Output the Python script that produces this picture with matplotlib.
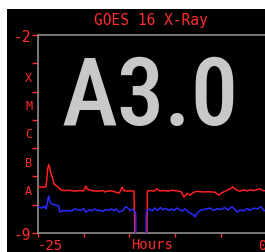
import matplotlib
matplotlib.use("Agg")
import matplotlib.pyplot as plt
from matplotlib.patches import Rectangle

# GOES 16 X-Ray flux (log10 W/m^2), hours before now
hours_long = [-25.0, -24.9, -24.5, -24.15, -24.05, -23.95, -23.83, -23.7, -23.58, -23.4, -23.25,
              -23.0, -22.81, -22.6, -22.2, -21.6, -21.0, -20.5, -20.0, -19.86, -19.75, -19.6,
              -19.0, -18.4, -17.9, -17.67, -17.3, -16.8, -16.47, -16.1, -15.81, -15.6, -15.2,
              -14.8, -14.5, -14.42, -14.38, -13.08, -13.04, -12.7, -12.3, -12.01, -11.7,
              -11.2, -10.8, -10.34, -9.8, -9.3, -9.03, -8.7, -8.37, -7.9, -7.6, -7.0,
              -6.4, -5.9, -5.63, -5.4, -5.2, -4.9, -4.5, -4.1, -3.67, -3.4, -3.1, -2.9,
              -2.5, -2.1, -1.8, -1.4, -1.0, -0.71, -0.4, 0.0]
flux_long = [-7.38, -7.37, -7.38, -7.37, -7.15, -6.75, -6.58, -6.72, -6.91, -7.05, -7.27,
             -7.33, -7.37, -7.45, -7.50, -7.49, -7.52, -7.50, -7.51, -7.40, -7.34, -7.45,
             -7.51, -7.52, -7.50, -7.55, -7.51, -7.52, -7.56, -7.59, -7.38, -7.50, -7.52,
             -7.51, -7.52, -8.6, -9.6, -9.6, -7.52, -7.50, -7.52, -7.44, -7.51,
             -7.50, -7.52, -7.49, -7.51, -7.55, -7.73, -7.60, -7.66, -7.55, -7.53, -7.55,
             -7.54, -7.55, -7.56, -7.62, -7.66, -7.58, -7.52, -7.46, -7.37, -7.46, -7.50,
             -7.52, -7.48, -7.51, -7.47, -7.50, -7.46, -7.44, -7.50, -7.51]

hours_short = [-25.0, -24.89, -24.6, -24.3, -24.1, -23.95, -23.83, -23.7, -23.5, -23.2, -22.9,
               -22.75, -22.59, -22.3, -22.0, -21.7, -21.3, -21.0, -20.6, -20.3, -20.0, -19.75,
               -19.4, -19.1, -18.8, -18.5, -18.2, -17.9, -17.6, -17.3, -17.0, -16.7, -16.47,
               -16.1, -15.7, -15.4, -15.15, -14.9, -14.65, -14.5, -14.31, -14.28, -13.2, -13.18,
               -13.1, -12.8, -12.5, -12.2, -11.9, -11.6, -11.3, -11.0, -10.7, -10.4, -10.1,
               -9.8, -9.5, -9.2, -8.9, -8.6, -8.37, -8.0, -7.8, -7.6, -7.3, -7.0, -6.6,
               -6.2, -5.8, -5.4, -5.0, -4.6, -4.2, -3.8, -3.5, -3.2, -2.9, -2.5, -2.1,
               -1.8, -1.4, -1.0, -0.6, -0.3, 0.0]
flux_short = [-8.10, -8.08, -8.12, -8.05, -8.15, -7.85, -7.69, -7.90, -7.97, -8.00, -8.03,
              -8.04, -8.26, -8.21, -8.22, -8.20, -8.22, -8.15, -8.18, -8.21, -8.14, -8.26,
              -8.18, -8.22, -8.15, -8.21, -8.19, -8.24, -8.17, -8.20, -8.15, -8.21, -8.15,
              -8.26, -8.20, -8.07, -8.12, -8.20, -8.15, -8.22, -8.30, -9.6, -9.6, -8.40,
              -8.21, -8.15, -8.22, -8.12, -8.20, -8.10, -8.18, -8.13, -8.21, -8.15, -8.20,
              -8.12, -8.18, -8.22, -8.15, -8.25, -8.29, -8.36, -8.43, -8.30, -8.21, -8.18,
              -8.15, -8.12, -8.20, -8.14, -8.17, -8.10, -8.18, -8.07, -8.15, -8.26, -8.18,
              -8.22, -8.13, -8.20, -8.12, -8.15, -8.07, -8.20, -8.22]

class_labels = ["X", "M", "C", "B", "A"]
class_pos = [-3.5, -4.5, -5.5, -6.5, -7.5]
current_class = "A3.0"

RED = "#ff2b2b"
GREY = "#8c8c8c"
MONO = "DejaVu Sans Mono"

W, H = 265, 253
fig = plt.figure(figsize=(W / 100, H / 100), dpi=100, facecolor="white")
# black panel (image is cropped from a larger display)
fig.add_artist(Rectangle((7 / W, 0), 1, 1 - 10 / H, transform=fig.transFigure,
                         facecolor="black", edgecolor="none", zorder=0))

ax = fig.add_axes([38 / W, (H - 234) / H, (266.5 - 38) / W, (234 - 36) / H])
ax.set_facecolor("black")

ax.plot(hours_long, flux_long, color="#ff2020", linewidth=1.1, zorder=3)
ax.plot(hours_short, flux_short, color="#2a2aff", linewidth=1.1, zorder=3)

ax.set_xlim(-25, 0)
ax.set_ylim(-9, -2)

for s in ax.spines.values():
    s.set_color(GREY)
    s.set_linewidth(1.2)
ax.spines["right"].set_visible(False)

ax.set_yticks(range(-9, -1))
ax.set_yticklabels(["-9", "", "", "", "", "", "", "-2"])
ax.set_xticks([-25, -20, -15, -10, -5, 0])
ax.set_xticklabels(["-25", "", "", "", "", "0"])
ax.tick_params(axis="y", colors=RED, length=4, width=1, labelsize=10.5, pad=1)
ax.tick_params(axis="x", colors=RED, length=3, width=1, labelsize=10, pad=0.5)
for lbl in ax.get_yticklabels() + ax.get_xticklabels():
    lbl.set_family(MONO)
    lbl.set_color(RED)
ax.get_xticklabels()[0].set_horizontalalignment("left")
ax.get_xticklabels()[-1].set_horizontalalignment("right")

for lab, pos in zip(class_labels, class_pos):
    ax.text(-0.025, pos, lab, transform=ax.get_yaxis_transform(), ha="right", va="center",
            color=RED, fontsize=8.5, family=MONO)

# x axis label placed directly (it sits at the very bottom edge)
fig.text(152 / W, 1 - 245.5 / H, "Hours", color=RED, fontsize=10, family=MONO,
         ha="center", va="center")
fig.text(151 / W, 1 - 20 / H, "GOES 16 X-Ray", color=RED, fontsize=10.5, family=MONO,
         ha="center", va="center")

ax.text(150 / W, 1 - 125 / H, current_class, transform=fig.transFigure, ha="center", va="baseline",
        color="#c8c8c8", fontsize=68, fontweight="medium",
        family=["Roboto Condensed", "Liberation Sans Narrow", "Roboto", "DejaVu Sans"], zorder=2)

fig.savefig("out.png", dpi=100, facecolor="white")
